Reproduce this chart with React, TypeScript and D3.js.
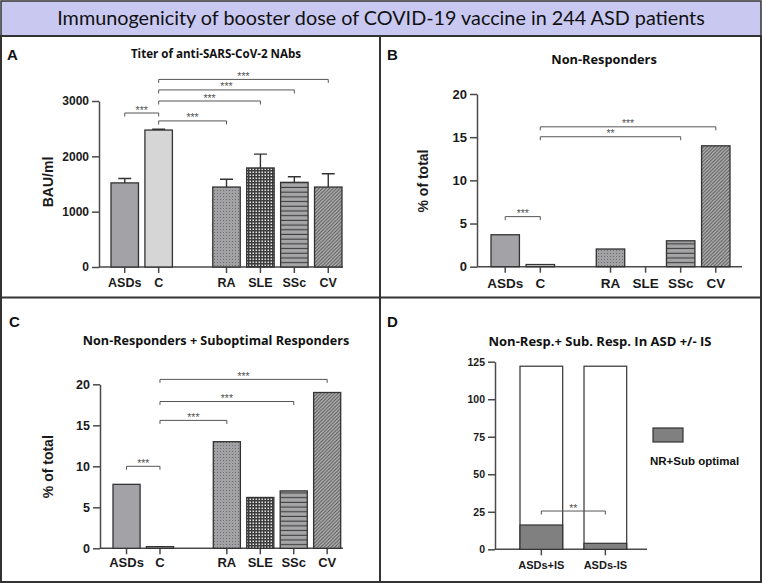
import * as d3 from 'd3';
import { useEffect, useRef } from 'react';

// groups in panels A-C, and the band slots (an empty slot makes the gap after C)
const groups = ['ASDs', 'C', 'RA', 'SLE', 'SSc', 'CV'];
const slots = ['ASDs', 'C', '', 'RA', 'SLE', 'SSc', 'CV'];

// A: titer (mean and top of the error bar)
const titerMean = [1520, 2475, 1445, 1790, 1530, 1445];
const titerUpper = [1600, 2490, 1585, 2040, 1630, 1685];
// B: non-responders, % of total
const nonResp = [3.7, 0.25, 2.05, 0, 3.0, 14.0];
// C: non-responders + suboptimal responders, % of total
const nonRespSub = [7.8, 0.2, 13.0, 6.2, 7.0, 19.0];
// D: ASD with / without immunosuppression
const isGroups = ['ASDs+IS', 'ASDs-IS'];
const isTotal = [122, 122];
const isNrSub = [16.2, 4];

const titerTicks = [0, 1000, 2000, 3000];
const pctTicks = [0, 5, 10, 15, 20];
const isTicks = [0, 25, 50, 75, 100, 125];

// significance brackets: from, to, height (axis units), label
type Sig = [string, string, number, string];
const titerSig: Sig[] = [
  ['ASDs', 'C', 2783, '***'],
  ['C', 'RA', 2640, '***'],
  ['C', 'SLE', 3000, '***'],
  ['C', 'SSc', 3200, '***'],
  ['C', 'CV', 3390, '***'],
];
const nonRespSig: Sig[] = [
  ['ASDs', 'C', 5.8, '***'],
  ['C', 'SSc', 15.05, '**'],
  ['C', 'CV', 16.2, '***'],
];
const nonRespSubSig: Sig[] = [
  ['ASDs', 'C', 10, '***'],
  ['C', 'RA', 15.6, '***'],
  ['C', 'SSc', 17.9, '***'],
  ['C', 'CV', 20.6, '***'],
];
const isSig: Sig[] = [['ASDs+IS', 'ASDs-IS', 25.5, '**']];

const fills = ['#a3a3a7', '#d6d6d6', 'url(#dots)', 'url(#checker)', 'url(#hstripes)', 'url(#diag)'];

const axisFont = "Arial, 'Liberation Sans', sans-serif";
const titleFont = "'Open Sans', sans-serif";
const bannerFont = "Lato, sans-serif";
const ink = '#333';

type G = d3.Selection<SVGGElement, unknown, null, undefined>;

interface PanelOpts {
  axisX: number;
  axisEnd: number;
  barLeft: number;
  barRight: number;
  yBottom: number;
  yTop: number;
  max: number;
  ticks: number[];
  domain: string[];
  padding: number;
  tickFont: number;
  labelDy: number;
}

function drawAxes(g: G, o: PanelOpts, labels: string[]) {
  const x = d3
    .scaleBand<string>()
    .domain(o.domain)
    .range([o.barLeft, o.barRight])
    .paddingInner(o.padding)
    .paddingOuter(0);
  const y = d3.scaleLinear().domain([0, o.max]).range([o.yBottom, o.yTop]);

  const yAxis = g
    .append('g')
    .attr('transform', `translate(${o.axisX},0)`)
    .call(
      d3
        .axisLeft(y)
        .tickValues(o.ticks)
        .tickFormat(d3.format('d'))
        .tickSize(7)
        .tickSizeOuter(0)
        .tickPadding(3),
    );
  yAxis.selectAll('path,line').attr('stroke', '#4a4a4a').attr('stroke-width', 1.5);
  yAxis
    .selectAll('text')
    .style('font-family', axisFont)
    .style('font-weight', '700')
    .style('font-size', `${o.tickFont}px`)
    .attr('fill', '#1a1a1a');

  g.append('line')
    .attr('x1', o.axisX)
    .attr('x2', o.axisEnd)
    .attr('y1', y(0))
    .attr('y2', y(0))
    .attr('stroke', '#4a4a4a')
    .attr('stroke-width', 1.5);

  const xt = g
    .selectAll('.xt')
    .data(labels)
    .join('g')
    .attr('class', 'xt')
    .attr('transform', (d) => `translate(${(x(d) ?? 0) + x.bandwidth() / 2},${y(0)})`);
  xt.append('line').attr('y2', 6).attr('stroke', '#4a4a4a').attr('stroke-width', 1.5);
  xt.append('text')
    .attr('y', o.labelDy)
    .attr('text-anchor', 'middle')
    .style('font-family', axisFont)
    .style('font-weight', '700')
    .style('font-size', `${o.tickFont + 0.5}px`)
    .attr('fill', '#1a1a1a')
    .text((d) => d);

  return { x, y };
}

function drawSig(g: G, sigs: Sig[], x: d3.ScaleBand<string>, y: d3.ScaleLinear<number, number>) {
  const c = (k: string) => (x(k) ?? 0) + x.bandwidth() / 2;
  const s = g.selectAll('.sig').data(sigs).join('g').attr('class', 'sig');
  s.append('path')
    .attr('d', (d) => {
      const yy = y(d[2]);
      return `M${c(d[0])},${yy + 3.5}V${yy}H${c(d[1])}V${yy + 3.5}`;
    })
    .attr('fill', 'none')
    .attr('stroke', '#555')
    .attr('stroke-width', 1);
  s.append('text')
    .attr('x', (d) => (c(d[0]) + c(d[1])) / 2)
    .attr('y', (d) => y(d[2]) + 0.5)
    .attr('text-anchor', 'middle')
    .style('font-family', axisFont)
    .style('font-size', '10.5px')
    .attr('fill', '#555')
    .text((d) => d[3]);
}

function drawBars(g: G, values: number[], x: d3.ScaleBand<string>, y: d3.ScaleLinear<number, number>) {
  g.selectAll('.bar')
    .data(values)
    .join('rect')
    .attr('class', 'bar')
    .attr('x', (_, i) => x(groups[i]) ?? 0)
    .attr('width', x.bandwidth())
    .attr('y', (d) => y(d))
    .attr('height', (d) => y(0) - y(d))
    .attr('fill', (_, i) => fills[i])
    .attr('stroke', (d) => (d > 0 ? ink : 'none'))
    .attr('stroke-width', 1.3);
}

function drawText(g: G, x: number, y: number, text: string, size: number, family: string, anchor = 'middle') {
  g.append('text')
    .attr('x', x)
    .attr('y', y)
    .attr('text-anchor', anchor)
    .style('font-family', family)
    .style('font-weight', '700')
    .style('font-size', `${size}px`)
    .attr('fill', '#111')
    .text(text);
}

function drawYTitle(g: G, x: number, y: number, text: string) {
  g.append('text')
    .attr('transform', `translate(${x},${y}) rotate(-90)`)
    .attr('text-anchor', 'middle')
    .attr('dominant-baseline', 'central')
    .style('font-family', axisFont)
    .style('font-weight', '700')
    .style('font-size', '14px')
    .attr('fill', '#1a1a1a')
    .text(text);
}

function Figure() {
  const svgElement = useRef<SVGSVGElement | null>(null);

  useEffect(() => {
    if (!svgElement.current) return;
    const svg = d3.select(svgElement.current);
    svg.selectAll('*').remove();

    // patterns
    const defs = svg.append('defs');
    const dots = defs.append('pattern').attr('id', 'dots').attr('width', 3).attr('height', 3).attr('patternUnits', 'userSpaceOnUse');
    dots.append('rect').attr('width', 3).attr('height', 3).attr('fill', '#a2a2a4');
    dots.append('rect').attr('x', 1).attr('y', 1).attr('width', 1).attr('height', 1).attr('fill', '#6e6e70');

    const checker = defs.append('pattern').attr('id', 'checker').attr('width', 3).attr('height', 3).attr('patternUnits', 'userSpaceOnUse');
    checker.append('rect').attr('width', 3).attr('height', 3).attr('fill', '#3d3d3d');
    checker.append('rect').attr('x', 0.5).attr('y', 0.5).attr('width', 1.5).attr('height', 1.5).attr('fill', '#e0e0e0');

    const hs = defs.append('pattern').attr('id', 'hstripes').attr('width', 6).attr('height', 4.7).attr('patternUnits', 'userSpaceOnUse');
    hs.append('rect').attr('width', 6).attr('height', 4.7).attr('fill', '#a6a6a8');
    hs.append('rect').attr('y', 3.6).attr('width', 6).attr('height', 1.1).attr('fill', '#3c3c3c');

    const dg = defs.append('pattern').attr('id', 'diag').attr('width', 3.5).attr('height', 3.5).attr('patternUnits', 'userSpaceOnUse');
    dg.append('rect').attr('width', 3.5).attr('height', 3.5).attr('fill', '#b0b0b0');
    dg.append('path').attr('d', 'M0,3.5L3.5,0M-1,1L1,-1M2.5,4.5L4.5,2.5').attr('stroke', '#555').attr('stroke-width', 1);

    const root = svg.append('g') as unknown as G;

    // banner and frame
    root.append('rect').attr('x', 1).attr('y', 1).attr('width', 760).attr('height', 35).attr('fill', '#c8c8f1').attr('stroke', ink).attr('stroke-width', 1.5);
    root.append('text')
      .attr('x', 381)
      .attr('y', 25)
      .attr('text-anchor', 'middle')
      .style('font-family', bannerFont)
      .style('font-size', '19.8px')
      .attr('fill', '#111')
      .text('Immunogenicity of booster dose of COVID-19 vaccine in 244 ASD patients');
    root.append('rect').attr('x', 1).attr('y', 36).attr('width', 760).attr('height', 546).attr('fill', 'white').attr('stroke', ink).attr('stroke-width', 2);
    root.append('line').attr('x1', 380).attr('x2', 380).attr('y1', 36).attr('y2', 582).attr('stroke', ink).attr('stroke-width', 2);
    root.append('line').attr('x1', 0).attr('x2', 762).attr('y1', 297.5).attr('y2', 297.5).attr('stroke', ink).attr('stroke-width', 2);

    // ---- A
    const gA = root.append('g') as unknown as G;
    const a = drawAxes(
      gA,
      { axisX: 99, axisEnd: 343, barLeft: 111, barRight: 342, yBottom: 267, yTop: 101, max: 3000, ticks: titerTicks, domain: slots, padding: 0.19, tickFont: 12, labelDy: 20 },
      groups,
    );
    drawBars(gA, titerMean, a.x, a.y);
    const eb = gA
      .selectAll('.err')
      .data(titerMean)
      .join('g')
      .attr('class', 'err')
      .attr('transform', (_, i) => `translate(${(a.x(groups[i]) ?? 0) + a.x.bandwidth() / 2},0)`);
    eb.append('path')
      .attr('d', (d, i) => `M0,${a.y(d)}V${a.y(titerUpper[i])}M-6.5,${a.y(titerUpper[i])}H6.5`)
      .attr('stroke', ink)
      .attr('stroke-width', 1.4)
      .attr('fill', 'none');
    drawSig(gA, titerSig, a.x, a.y);
    drawText(gA, 216, 58, 'Titer of anti-SARS-CoV-2 NAbs', 11.6, titleFont);
    drawText(gA, 7, 60, 'A', 15, axisFont, 'start');
    drawYTitle(gA, 48, 182, 'BAU/ml');

    // ---- B
    const gB = root.append('g') as unknown as G;
    const b = drawAxes(
      gB,
      { axisX: 477, axisEnd: 742, barLeft: 491, barRight: 730, yBottom: 266.7, yTop: 94, max: 20, ticks: pctTicks, domain: slots, padding: 0.19, tickFont: 13, labelDy: 21 },
      groups,
    );
    drawBars(gB, nonResp, b.x, b.y);
    drawSig(gB, nonRespSig, b.x, b.y);
    drawText(gB, 604, 64, 'Non-Responders', 12.8, titleFont);
    drawText(gB, 387, 60, 'B', 15, axisFont, 'start');
    drawYTitle(gB, 423, 181, '% of total');

    // ---- C
    const gC = root.append('g') as unknown as G;
    const c = drawAxes(
      gC,
      { axisX: 100, axisEnd: 343, barLeft: 113, barRight: 340.7, yBottom: 548.3, yTop: 384.3, max: 20, ticks: pctTicks, domain: slots, padding: 0.19, tickFont: 12.5, labelDy: 19 },
      groups,
    );
    drawBars(gC, nonRespSub, c.x, c.y);
    drawSig(gC, nonRespSubSig, c.x, c.y);
    drawText(gC, 216, 345, 'Non-Responders + Suboptimal Responders', 12.6, titleFont);
    drawText(gC, 9, 327, 'C', 15, axisFont, 'start');
    drawYTitle(gC, 48, 466.7, '% of total');

    // ---- D
    const gD = root.append('g') as unknown as G;
    const d = drawAxes(
      gD,
      { axisX: 495, axisEnd: 647, barLeft: 520, barRight: 626.7, yBottom: 549.3, yTop: 361.7, max: 125, ticks: isTicks, domain: isGroups, padding: 0.333, tickFont: 10.5, labelDy: 20 },
      isGroups,
    );
    gD.selectAll('.tot')
      .data(isTotal)
      .join('rect')
      .attr('class', 'tot')
      .attr('x', (_, i) => d.x(isGroups[i]) ?? 0)
      .attr('width', d.x.bandwidth())
      .attr('y', (v) => d.y(v))
      .attr('height', (v) => d.y(0) - d.y(v))
      .attr('fill', 'white')
      .attr('stroke', ink)
      .attr('stroke-width', 1.2);
    gD.selectAll('.nr')
      .data(isNrSub)
      .join('rect')
      .attr('class', 'nr')
      .attr('x', (_, i) => d.x(isGroups[i]) ?? 0)
      .attr('width', d.x.bandwidth())
      .attr('y', (v) => d.y(v))
      .attr('height', (v) => d.y(0) - d.y(v))
      .attr('fill', '#808080')
      .attr('stroke', ink)
      .attr('stroke-width', 1.2);
    drawSig(gD, isSig, d.x, d.y);
    drawText(gD, 600, 346, 'Non-Resp.+ Sub. Resp. In ASD +/- IS', 13, titleFont);
    drawText(gD, 387, 327, 'D', 15, axisFont, 'start');
    gD.append('rect').attr('x', 653).attr('y', 428).attr('width', 30).attr('height', 14).attr('fill', '#808080').attr('stroke', ink).attr('stroke-width', 1.2);
    drawText(gD, 650, 465, 'NR+Sub optimal', 11.5, axisFont, 'start');
  }, []);

  return (
    <svg
      ref={svgElement}
      width={762}
      height={583}
      style={{ position: 'absolute', left: 0, top: 0, background: 'white' }}
    />
  );
}

export default function App() {
  return <Figure />;
}
